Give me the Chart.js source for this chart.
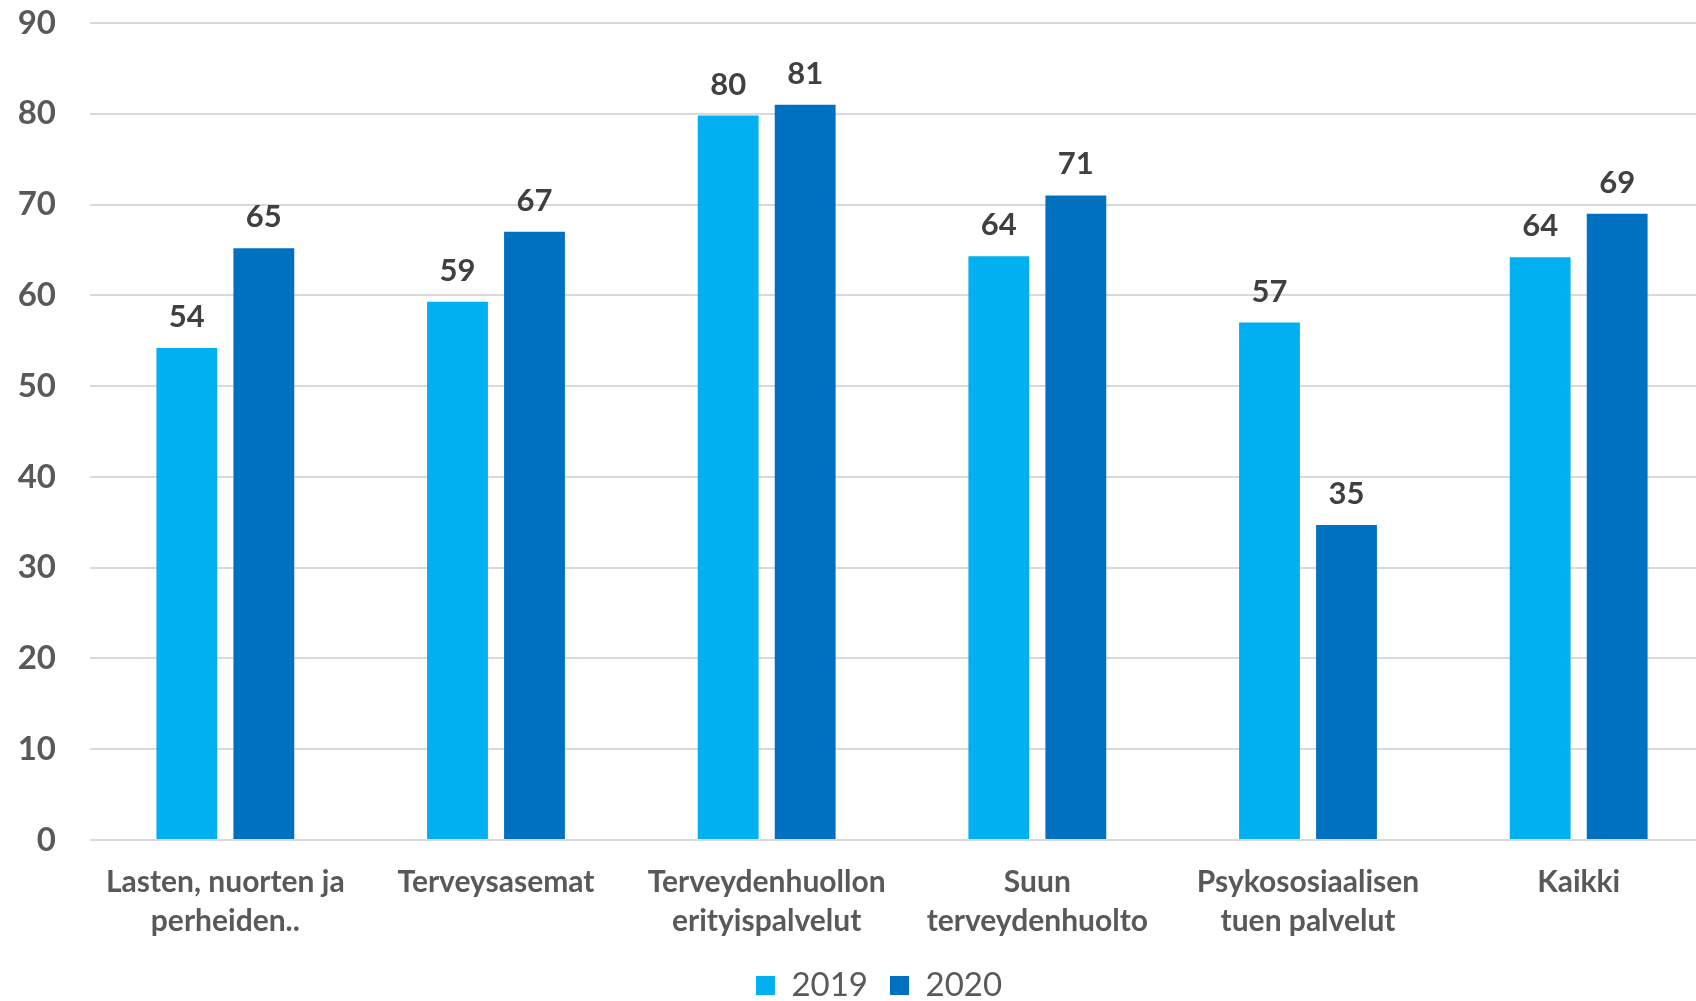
<!DOCTYPE html>
<html>
<head>
<meta charset="utf-8">
<script src="https://cdn.jsdelivr.net/npm/chart.js@4"></script>
<style>
  html, body { margin: 0; padding: 0; background: #fff; overflow: hidden; }
</style>
</head>
<body>
<canvas id="chart" width="1714" height="1001"></canvas>
<script>
// ---- data ----
const categories = [
    ['Lasten, nuorten ja', 'perheiden..'],
    'Terveysasemat',
    ['Terveydenhuollon', 'erityispalvelut'],
    ['Suun', 'terveydenhuolto'],
    ['Psykososiaalisen', 'tuen palvelut'],
    'Kaikki'
];
const seriesNames = ['2019', '2020'];
const values2019 = [54.2, 59.3, 79.8, 64.3, 57.0, 64.2];
const values2020 = [65.2, 67.0, 81.0, 71.0, 34.7, 69.0];
const yTicks = [0, 10, 20, 30, 40, 50, 60, 70, 80, 90];

const colors = ['#00B0F0', '#0070C0'];
const textGray = '#595959';
const fontFamily = 'Lato, "Open Sans", sans-serif';

// value labels above the bars
const valueLabels = {
    id: 'valueLabels',
    afterDatasetsDraw(chart) {
        const ctx = chart.ctx;
        ctx.save();
        ctx.font = 'bold 31px ' + fontFamily;
        ctx.fillStyle = '#404040';
        ctx.textAlign = 'center';
        ctx.textBaseline = 'middle';
        chart.data.datasets.forEach((ds, i) => {
            chart.getDatasetMeta(i).data.forEach((bar, j) => {
                ctx.fillText(Math.round(ds.data[j]), bar.x, bar.y - 31);
            });
        });
        ctx.restore();
    }
};

// nudge the legend to where the original sits
const legendShift = {
    id: 'legendShift',
    afterLayout(chart) {
        const l = chart.legend;
        l.left += 22; l.right += 22;
        l.top += 11; l.bottom += 11;
    }
};

const ctx = document.getElementById('chart').getContext('2d');
new Chart(ctx, {
    type: 'bar',
    data: {
        labels: categories,
        datasets: [
            { label: seriesNames[0], data: values2019, backgroundColor: colors[0] },
            { label: seriesNames[1], data: values2020, backgroundColor: colors[1] }
        ]
    },
    options: {
        responsive: false,
        animation: false,
        devicePixelRatio: 1,
        categoryPercentage: 0.569,
        barPercentage: 0.79,
        layout: { padding: { top: 23, right: 0, left: 0, bottom: 0 } },
        plugins: {
            tooltip: { enabled: false },
            legend: {
                position: 'bottom',
                labels: {
                    color: textGray,
                    font: { family: fontFamily, size: 33 },
                    boxWidth: 19,
                    boxHeight: 19,
                    padding: 22
                }
            }
        },
        scales: {
            y: {
                min: 0,
                max: 90,
                afterBuildTicks: (scale) => { scale.ticks = yTicks.map(v => ({ value: v })); },
                afterFit: (scale) => {
                    scale.width = 90;
                    scale.paddingTop = 0;
                    scale.paddingBottom = 0;
                },
                grid: { color: '#D9D9D9', lineWidth: 2, drawTicks: false, tickLength: 0 },
                border: { display: false },
                ticks: {
                    color: textGray,
                    padding: 34,
                    font: { family: fontFamily, size: 33, weight: 'bold' }
                }
            },
            x: {
                afterFit: (scale) => { scale.height = 96; },
                grid: { display: false },
                border: { display: false },
                ticks: {
                    color: textGray,
                    padding: 15,
                    maxRotation: 0,
                    autoSkip: false,
                    font: { family: fontFamily, size: 30, weight: 'bold', lineHeight: 1.3 }
                }
            }
        }
    },
    plugins: [valueLabels, legendShift]
});
</script>
</body>
</html>
